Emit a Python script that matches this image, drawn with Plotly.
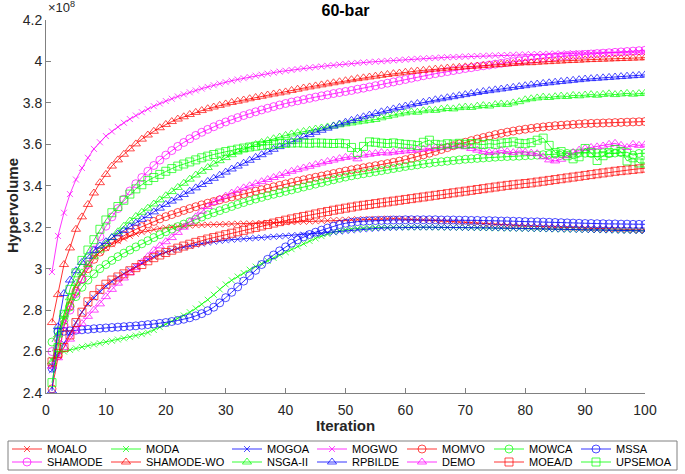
import plotly.graph_objects as go

ITER = list(range(1, 101))

MOALO = [2.530, 2.640, 2.760, 2.850, 2.920, 2.975, 3.020, 3.055, 3.080, 3.100,
         3.118, 3.133, 3.146, 3.158, 3.168, 3.176, 3.183, 3.189, 3.194, 3.198,
         3.201, 3.204, 3.206, 3.208, 3.210, 3.211, 3.212, 3.213, 3.214, 3.215,
         3.216, 3.217, 3.217, 3.218, 3.219, 3.220, 3.221, 3.222, 3.223, 3.224,
         3.225, 3.226, 3.227, 3.228, 3.229, 3.231, 3.232, 3.234, 3.235, 3.236,
         3.237, 3.238, 3.239, 3.240, 3.240, 3.241, 3.241, 3.241, 3.240, 3.239,
         3.238, 3.237, 3.236, 3.235, 3.233, 3.231, 3.229, 3.227, 3.225, 3.223,
         3.221, 3.219, 3.217, 3.215, 3.213, 3.211, 3.209, 3.208, 3.207, 3.206,
         3.205, 3.204, 3.203, 3.202, 3.201, 3.200, 3.199, 3.198, 3.197, 3.196,
         3.195, 3.194, 3.193, 3.192, 3.191, 3.190, 3.189, 3.188, 3.187, 3.186]

MODA = [2.560, 2.590, 2.600, 2.608, 2.615, 2.622, 2.628, 2.634, 2.640, 2.646,
        2.652, 2.658, 2.664, 2.670, 2.677, 2.684, 2.692, 2.704, 2.718, 2.732,
        2.746, 2.760, 2.774, 2.790, 2.808, 2.828, 2.850, 2.874, 2.900, 2.924,
        2.944, 2.962, 2.979, 2.995, 3.010, 3.024, 3.038, 3.052, 3.066, 3.080,
        3.094, 3.108, 3.121, 3.134, 3.146, 3.157, 3.167, 3.176, 3.183, 3.188,
        3.192, 3.194, 3.196, 3.197, 3.198, 3.199, 3.199, 3.200, 3.200, 3.200,
        3.200, 3.200, 3.200, 3.200, 3.200, 3.199, 3.199, 3.199, 3.198, 3.198,
        3.197, 3.197, 3.196, 3.196, 3.195, 3.195, 3.194, 3.194, 3.193, 3.193,
        3.192, 3.192, 3.191, 3.191, 3.190, 3.190, 3.189, 3.189, 3.188, 3.188,
        3.187, 3.187, 3.186, 3.186, 3.185, 3.185, 3.184, 3.184, 3.183, 3.183]

MOGOA = [2.510, 2.580, 2.640, 2.690, 2.740, 2.790, 2.830, 2.860, 2.890, 2.915,
         2.938, 2.958, 2.976, 2.993, 3.010, 3.028, 3.045, 3.058, 3.070, 3.080,
         3.089, 3.097, 3.104, 3.110, 3.116, 3.121, 3.126, 3.130, 3.134, 3.137,
         3.140, 3.142, 3.144, 3.146, 3.148, 3.150, 3.152, 3.154, 3.156, 3.158,
         3.160, 3.162, 3.164, 3.166, 3.168, 3.170, 3.173, 3.176, 3.179, 3.182,
         3.185, 3.188, 3.190, 3.192, 3.194, 3.196, 3.197, 3.198, 3.199, 3.200,
         3.200, 3.200, 3.200, 3.200, 3.200, 3.200, 3.199, 3.199, 3.199, 3.198,
         3.198, 3.198, 3.197, 3.197, 3.196, 3.196, 3.195, 3.195, 3.194, 3.194,
         3.193, 3.193, 3.192, 3.191, 3.191, 3.190, 3.190, 3.189, 3.188, 3.188,
         3.187, 3.187, 3.186, 3.186, 3.185, 3.184, 3.184, 3.183, 3.183, 3.182]

MOGWO = [2.984, 3.158, 3.270, 3.360, 3.430, 3.486, 3.535, 3.578, 3.610, 3.640,
         3.662, 3.684, 3.704, 3.722, 3.739, 3.755, 3.770, 3.784, 3.797, 3.809,
         3.820, 3.831, 3.841, 3.851, 3.860, 3.869, 3.877, 3.885, 3.893, 3.900,
         3.907, 3.913, 3.919, 3.925, 3.931, 3.936, 3.941, 3.946, 3.951, 3.955,
         3.959, 3.963, 3.967, 3.970, 3.973, 3.976, 3.979, 3.982, 3.985, 3.988,
         3.990, 3.993, 3.995, 3.997, 3.999, 4.001, 4.003, 4.005, 4.007, 4.009,
         4.011, 4.013, 4.014, 4.016, 4.017, 4.019, 4.020, 4.021, 4.022, 4.024,
         4.025, 4.026, 4.027, 4.028, 4.029, 4.030, 4.031, 4.032, 4.033, 4.034,
         4.035, 4.036, 4.036, 4.037, 4.038, 4.038, 4.039, 4.040, 4.040, 4.041,
         4.041, 4.042, 4.042, 4.043, 4.043, 4.044, 4.044, 4.045, 4.045, 4.046]

MOMVO = [2.420, 2.580, 2.720, 2.820, 2.890, 2.950, 3.000, 3.045, 3.080, 3.105,
         3.125, 3.143, 3.160, 3.175, 3.190, 3.203, 3.216, 3.228, 3.240, 3.251,
         3.261, 3.271, 3.281, 3.290, 3.299, 3.308, 3.316, 3.324, 3.332, 3.339,
         3.346, 3.353, 3.360, 3.367, 3.374, 3.381, 3.388, 3.395, 3.402, 3.409,
         3.416, 3.423, 3.429, 3.435, 3.441, 3.447, 3.453, 3.459, 3.465, 3.471,
         3.477, 3.482, 3.487, 3.492, 3.497, 3.502, 3.507, 3.513, 3.519, 3.526,
         3.533, 3.541, 3.549, 3.557, 3.566, 3.575, 3.584, 3.593, 3.602, 3.610,
         3.618, 3.626, 3.633, 3.640, 3.647, 3.653, 3.659, 3.664, 3.669, 3.673,
         3.677, 3.681, 3.684, 3.687, 3.690, 3.692, 3.694, 3.696, 3.698, 3.700,
         3.701, 3.702, 3.703, 3.704, 3.705, 3.706, 3.707, 3.708, 3.709, 3.710]

MOWCA = [2.646, 2.700, 2.750, 2.815, 2.865, 2.910, 2.945, 2.975, 3.000, 3.020,
         3.040, 3.058, 3.075, 3.090, 3.105, 3.120, 3.135, 3.150, 3.164, 3.178,
         3.191, 3.203, 3.215, 3.227, 3.238, 3.249, 3.260, 3.270, 3.280, 3.290,
         3.300, 3.310, 3.319, 3.328, 3.336, 3.344, 3.352, 3.359, 3.366, 3.373,
         3.380, 3.387, 3.394, 3.401, 3.408, 3.415, 3.422, 3.429, 3.436, 3.442,
         3.448, 3.453, 3.458, 3.463, 3.468, 3.473, 3.478, 3.483, 3.488, 3.493,
         3.497, 3.501, 3.505, 3.509, 3.513, 3.516, 3.519, 3.522, 3.525, 3.528,
         3.530, 3.532, 3.534, 3.536, 3.538, 3.540, 3.541, 3.542, 3.543, 3.545,
         3.546, 3.548, 3.550, 3.551, 3.553, 3.555, 3.556, 3.557, 3.558, 3.557,
         3.556, 3.558, 3.560, 3.555, 3.558, 3.560, 3.562, 3.548, 3.556, 3.557]

MSSA = [2.520, 2.695, 2.698, 2.700, 2.703, 2.705, 2.707, 2.710, 2.712, 2.714,
        2.716, 2.718, 2.720, 2.722, 2.724, 2.727, 2.730, 2.733, 2.736, 2.740,
        2.745, 2.750, 2.756, 2.763, 2.772, 2.783, 2.797, 2.814, 2.835, 2.860,
        2.886, 2.912, 2.940, 2.966, 2.992, 3.020, 3.045, 3.066, 3.086, 3.105,
        3.123, 3.139, 3.153, 3.165, 3.176, 3.186, 3.196, 3.205, 3.213, 3.219,
        3.224, 3.227, 3.229, 3.231, 3.232, 3.233, 3.234, 3.235, 3.235, 3.236,
        3.236, 3.236, 3.236, 3.236, 3.236, 3.235, 3.235, 3.235, 3.234, 3.234,
        3.233, 3.233, 3.232, 3.232, 3.231, 3.230, 3.230, 3.229, 3.228, 3.227,
        3.226, 3.226, 3.225, 3.224, 3.223, 3.222, 3.221, 3.220, 3.219, 3.218,
        3.218, 3.217, 3.217, 3.216, 3.216, 3.215, 3.215, 3.214, 3.214, 3.214]

SHAMODE = [2.600, 2.660, 2.730, 2.800, 2.880, 2.950, 3.020, 3.090, 3.155, 3.205,
           3.250, 3.290, 3.335, 3.375, 3.410, 3.440, 3.470, 3.498, 3.524, 3.548,
           3.570, 3.590, 3.609, 3.627, 3.643, 3.658, 3.672, 3.685, 3.697, 3.708,
           3.719, 3.729, 3.739, 3.748, 3.757, 3.766, 3.774, 3.782, 3.790, 3.797,
           3.804, 3.810, 3.816, 3.822, 3.828, 3.834, 3.839, 3.845, 3.850, 3.855,
           3.860, 3.866, 3.871, 3.877, 3.883, 3.889, 3.895, 3.901, 3.907, 3.913,
           3.919, 3.925, 3.931, 3.936, 3.941, 3.946, 3.951, 3.956, 3.961, 3.966,
           3.970, 3.975, 3.979, 3.983, 3.987, 3.991, 3.995, 3.999, 4.003, 4.006,
           4.010, 4.013, 4.016, 4.019, 4.022, 4.025, 4.028, 4.030, 4.032, 4.034,
           4.036, 4.038, 4.040, 4.042, 4.044, 4.046, 4.048, 4.050, 4.052, 4.054]

SHAMODE_WO = [2.740, 2.875, 3.020, 3.100, 3.190, 3.250, 3.310, 3.365, 3.415, 3.455,
              3.495, 3.525, 3.552, 3.578, 3.602, 3.625, 3.645, 3.663, 3.680, 3.696,
              3.710, 3.722, 3.733, 3.744, 3.754, 3.763, 3.772, 3.780, 3.788, 3.795,
              3.802, 3.808, 3.814, 3.820, 3.826, 3.832, 3.838, 3.843, 3.848, 3.853,
              3.860, 3.866, 3.872, 3.877, 3.882, 3.887, 3.892, 3.897, 3.902, 3.907,
              3.912, 3.917, 3.921, 3.925, 3.929, 3.933, 3.937, 3.941, 3.944, 3.948,
              3.951, 3.954, 3.957, 3.960, 3.963, 3.965, 3.968, 3.970, 3.972, 3.974,
              3.976, 3.978, 3.980, 3.982, 3.984, 3.986, 3.988, 3.990, 3.992, 3.994,
              3.994, 3.996, 3.998, 3.999, 4.001, 4.002, 4.004, 4.005, 4.006, 4.008,
              4.009, 4.010, 4.011, 4.012, 4.013, 4.014, 4.015, 4.016, 4.017, 4.018]

NSGA_II = [2.550, 2.680, 2.780, 2.860, 2.930, 2.980, 3.020, 3.060, 3.090, 3.120,
           3.150, 3.178, 3.205, 3.230, 3.252, 3.272, 3.292, 3.312, 3.332, 3.352,
           3.372, 3.392, 3.412, 3.432, 3.452, 3.470, 3.488, 3.505, 3.521, 3.536,
           3.550, 3.563, 3.576, 3.588, 3.599, 3.609, 3.618, 3.627, 3.635, 3.643,
           3.650, 3.656, 3.662, 3.668, 3.674, 3.679, 3.684, 3.689, 3.694, 3.699,
           3.703, 3.708, 3.712, 3.716, 3.720, 3.728, 3.735, 3.741, 3.747, 3.752,
           3.757, 3.755, 3.762, 3.766, 3.764, 3.770, 3.773, 3.771, 3.777, 3.780,
           3.778, 3.784, 3.787, 3.785, 3.792, 3.795, 3.793, 3.800, 3.806, 3.815,
           3.820, 3.824, 3.828, 3.826, 3.830, 3.833, 3.831, 3.836, 3.834, 3.838,
           3.840, 3.837, 3.841, 3.844, 3.840, 3.843, 3.846, 3.842, 3.845, 3.847]

RPBILDE = [2.410, 2.720, 2.880, 2.945, 2.990, 3.030, 3.060, 3.088, 3.110, 3.130,
           3.150, 3.168, 3.185, 3.202, 3.220, 3.238, 3.256, 3.274, 3.292, 3.310,
           3.326, 3.342, 3.358, 3.374, 3.390, 3.406, 3.421, 3.436, 3.451, 3.466,
           3.481, 3.495, 3.509, 3.523, 3.537, 3.550, 3.563, 3.576, 3.589, 3.601,
           3.613, 3.625, 3.636, 3.647, 3.658, 3.668, 3.678, 3.688, 3.698, 3.707,
           3.716, 3.725, 3.733, 3.741, 3.749, 3.757, 3.764, 3.771, 3.778, 3.785,
           3.791, 3.797, 3.803, 3.809, 3.815, 3.820, 3.825, 3.830, 3.835, 3.840,
           3.845, 3.850, 3.855, 3.859, 3.863, 3.867, 3.871, 3.875, 3.879, 3.883,
           3.887, 3.891, 3.894, 3.897, 3.900, 3.903, 3.906, 3.909, 3.912, 3.915,
           3.917, 3.919, 3.921, 3.923, 3.925, 3.927, 3.929, 3.931, 3.933, 3.935]

DEMO = [2.530, 2.570, 2.620, 2.660, 2.700, 2.735, 2.770, 2.800, 2.830, 2.865,
        2.900, 2.930, 2.955, 2.980, 3.005, 3.030, 3.058, 3.088, 3.110, 3.130,
        3.150, 3.175, 3.200, 3.225, 3.250, 3.278, 3.300, 3.320, 3.336, 3.350,
        3.365, 3.378, 3.390, 3.400, 3.410, 3.420, 3.430, 3.440, 3.450, 3.460,
        3.470, 3.478, 3.486, 3.494, 3.502, 3.510, 3.517, 3.524, 3.531, 3.537,
        3.540, 3.530, 3.548, 3.552, 3.556, 3.560, 3.558, 3.562, 3.565, 3.568,
        3.570, 3.574, 3.577, 3.580, 3.583, 3.585, 3.588, 3.590, 3.592, 3.588,
        3.580, 3.572, 3.566, 3.560, 3.563, 3.570, 3.565, 3.560, 3.568, 3.562,
        3.558, 3.555, 3.540, 3.525, 3.520, 3.528, 3.545, 3.560, 3.572, 3.580,
        3.585, 3.588, 3.592, 3.600, 3.605, 3.595, 3.585, 3.600, 3.595, 3.598]

MOEA_D = [2.550, 2.590, 2.620, 2.680, 2.740, 2.790, 2.840, 2.870, 2.900, 2.925,
          2.945, 2.960, 2.975, 2.990, 3.005, 3.020, 3.038, 3.053, 3.066, 3.078,
          3.089, 3.099, 3.109, 3.118, 3.127, 3.135, 3.143, 3.150, 3.157, 3.164,
          3.171, 3.178, 3.185, 3.192, 3.199, 3.206, 3.213, 3.220, 3.227, 3.234,
          3.240, 3.246, 3.252, 3.258, 3.264, 3.270, 3.276, 3.282, 3.287, 3.292,
          3.297, 3.302, 3.306, 3.310, 3.314, 3.318, 3.322, 3.326, 3.330, 3.334,
          3.338, 3.342, 3.346, 3.350, 3.354, 3.358, 3.362, 3.366, 3.370, 3.374,
          3.378, 3.382, 3.386, 3.390, 3.394, 3.398, 3.402, 3.405, 3.408, 3.411,
          3.414, 3.418, 3.422, 3.426, 3.430, 3.434, 3.438, 3.442, 3.446, 3.450,
          3.454, 3.458, 3.462, 3.466, 3.470, 3.473, 3.476, 3.479, 3.482, 3.485]

UPSEMOA = [2.450, 2.620, 2.780, 2.900, 2.980, 3.040, 3.090, 3.140, 3.190, 3.235,
           3.270, 3.300, 3.330, 3.360, 3.385, 3.405, 3.425, 3.440, 3.455, 3.470,
           3.483, 3.495, 3.505, 3.515, 3.525, 3.535, 3.543, 3.551, 3.558, 3.565,
           3.571, 3.577, 3.582, 3.587, 3.591, 3.595, 3.598, 3.601, 3.603, 3.605,
           3.606, 3.607, 3.606, 3.605, 3.607, 3.606, 3.605, 3.604, 3.606, 3.603,
           3.585, 3.560, 3.590, 3.612, 3.610, 3.606, 3.604, 3.607, 3.603, 3.600,
           3.598, 3.594, 3.610, 3.620, 3.600, 3.597, 3.603, 3.601, 3.605, 3.600,
           3.604, 3.602, 3.599, 3.603, 3.600, 3.606, 3.608, 3.612, 3.605, 3.603,
           3.608, 3.620, 3.630, 3.595, 3.560, 3.565, 3.545, 3.530, 3.540, 3.580,
           3.560, 3.522, 3.545, 3.560, 3.575, 3.565, 3.520, 3.535, 3.510, 3.510]

NAMES = ["MOALO", "MODA", "MOGOA", "MOGWO", "MOMVO", "MOWCA", "MSSA",
         "SHAMODE", "SHAMODE-WO", "NSGA-II", "RPBILDE", "DEMO", "MOEA/D", "UPSEMOA"]
SERIES = [MOALO, MODA, MOGOA, MOGWO, MOMVO, MOWCA, MSSA,
          SHAMODE, SHAMODE_WO, NSGA_II, RPBILDE, DEMO, MOEA_D, UPSEMOA]

X_TICKS = [0, 10, 20, 30, 40, 50, 60, 70, 80, 90, 100]
Y_TICK_VALS = [2.4, 2.6, 2.8, 3.0, 3.2, 3.4, 3.6, 3.8, 4.0, 4.2]
Y_TICK_TEXT = ["2.4", "2.6", "2.8", "3", "3.2", "3.4", "3.6", "3.8", "4", "4.2"]

# styles
COLORS = ["#ff0000", "#00ff00", "#0000ff", "#ff00ff"]
COLOR_IDX = [0, 1, 2, 3, 0, 1, 2, 3, 0, 1, 2, 3, 0, 1]
SYMBOLS = ["x-thin", "circle-open", "triangle-up-open", "square-open"]
SYMBOL_IDX = [0, 0, 0, 0, 1, 1, 1, 1, 2, 2, 2, 2, 3, 3]
SIZES = [6, 8, 8, 8]

W, H = 685, 474
L, R, T, B = 46, 645, 20, 393  # plot area in pixels
FONT = "Liberation Sans, Arial, Helvetica, sans-serif"

# legend column x (px, left of each entry block) and row y (px)
LEG_COL_X = [7, 106, 227, 312, 402, 489, 576]
LEG_ROW_Y = [449, 462]


def px_x(p):
    return (p - L) / (R - L)


def px_y(p):
    return (B - p) / (B - T)


fig = go.Figure()
for i, (name, ys) in enumerate(zip(NAMES, SERIES)):
    color = COLORS[COLOR_IDX[i]]
    si = SYMBOL_IDX[i]
    leg = "legend" if i == 0 else f"legend{i + 1}"
    fig.add_trace(go.Scatter(
        x=ITER, y=ys, name=name, mode="lines+markers",
        line=dict(color=color, width=0.8),
        marker=dict(symbol=SYMBOLS[si], size=SIZES[si],
                    color=color, line=dict(color=color, width=0.7)),
        legend=leg,
    ))

layout_legends = {}
for i in range(len(NAMES)):
    key = "legend" if i == 0 else f"legend{i + 1}"
    col = i % 7
    row = i // 7
    layout_legends[key] = dict(
        x=LEG_COL_X[col] / W, y=1 - LEG_ROW_Y[row] / H,
        xref="container", yref="container",
        xanchor="left", yanchor="middle",
        bgcolor="rgba(0,0,0,0)", borderwidth=0,
        font=dict(family=FONT, size=11, color="#000000"),
        itemwidth=30,
    )

fig.update_layout(
    width=W, height=H,
    margin=dict(l=L, r=W - R, t=T, b=H - B, pad=0, autoexpand=False),
    paper_bgcolor="white", plot_bgcolor="white",
    font=dict(family=FONT, color="#262626"),
    showlegend=True,
    title=dict(text="<b>60-bar</b>", x=(L + R) / 2 / W, xanchor="center",
               y=1 - 10 / H, yanchor="middle",
               font=dict(family=FONT, size=16, color="#000000")),
    xaxis=dict(range=[0, 100], tickvals=X_TICKS, ticks="inside", ticklen=5,
               tickcolor="#808080", showline=True, linecolor="#808080", linewidth=1,
               showgrid=False, zeroline=False, ticklabelstandoff=4,
               tickfont=dict(family=FONT, size=14, color="#262626")),
    yaxis=dict(range=[2.4, 4.2], tickvals=Y_TICK_VALS, ticktext=Y_TICK_TEXT,
               ticks="inside", ticklen=5,
               tickcolor="#808080", showline=True, linecolor="#808080", linewidth=1,
               showgrid=False, zeroline=False,
               tickfont=dict(family=FONT, size=14, color="#262626")),
    annotations=[
        dict(text="×10<sup>8</sup>", xref="paper", yref="paper",
             x=0, y=1, xanchor="left", yanchor="bottom", yshift=3, showarrow=False,
             font=dict(family=FONT, size=13, color="#262626")),
        dict(text="<b>Hypervolume</b>", xref="paper", yref="paper",
             x=px_x(12), y=px_y(206), xanchor="center", yanchor="middle",
             textangle=-90, showarrow=False,
             font=dict(family=FONT, size=15, color="#262626")),
        dict(text="<b>Iteration</b>", xref="paper", yref="paper",
             x=0.5, y=px_y(425), xanchor="center", yanchor="middle",
             showarrow=False,
             font=dict(family=FONT, size=15, color="#262626")),
    ],
    shapes=[dict(type="rect", xref="paper", yref="paper",
                 x0=px_x(8), x1=px_x(677), y0=px_y(470), y1=px_y(441),
                 line=dict(color="#808080", width=1), fillcolor="rgba(0,0,0,0)",
                 layer="below")],
    **layout_legends,
)

fig.write_html("out.html", config={"displayModeBar": False},
               post_script="document.body.style.margin='0';")
